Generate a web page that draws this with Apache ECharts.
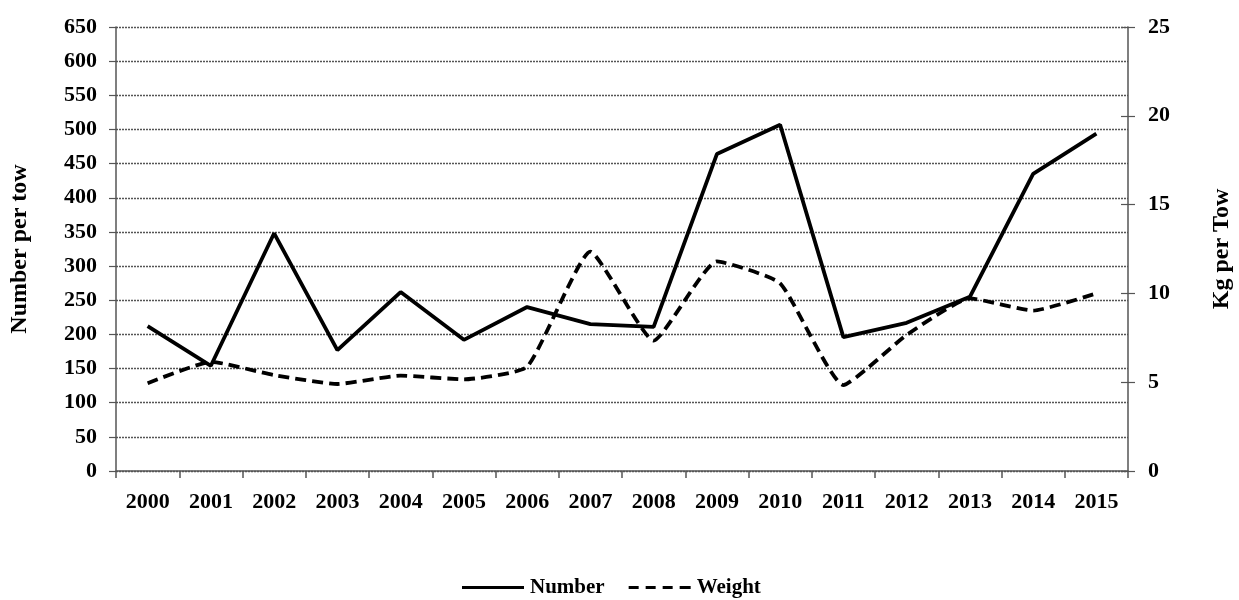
<!DOCTYPE html>
<html><head><meta charset="utf-8">
<script src="https://cdn.jsdelivr.net/npm/echarts@6/dist/echarts.min.js"></script>
<style>html,body{margin:0;padding:0;background:#fff}#c{width:1239px;height:600px}</style>
</head><body><div id="c"></div>
<script>
const years = ['2000','2001','2002','2003','2004','2005','2006','2007','2008','2009','2010','2011','2012','2013','2014','2015'];
const numberPerTow = [212,154,348,177,262,192,240,215,211,464,507,196,217,255,435,494];
const kgPerTow = [4.94,6.15,5.4,4.9,5.37,5.16,5.87,12.35,7.34,11.8,10.57,4.84,7.66,9.72,9.03,10.0];

const font = '"Liberation Serif","Times New Roman",serif';
const axisCol = '#555';
const chart = echarts.init(document.getElementById('c'));
chart.setOption({
  animation:false,
  backgroundColor:'#fff',
  grid:{left:116,right:111,top:27,bottom:129,containLabel:false,outerBoundsMode:'none'},
  legend:{
    bottom:-3,left:457,itemWidth:62,itemHeight:14,itemGap:24,
    textStyle:{fontFamily:font,fontWeight:'bold',fontSize:21,color:'#000',padding:[0,0,0,1]},
    data:[{name:'Number',icon:'path://M0,5.5 L62,5.5 L62,8.5 L0,8.5 Z'},
          {name:'Weight',icon:'path://M0,5.5 L10,5.5 L10,8.5 L0,8.5 Z M17,5.5 L27,5.5 L27,8.5 L17,8.5 Z M34,5.5 L44,5.5 L44,8.5 L34,8.5 Z M51,5.5 L62,5.5 L62,8.5 L51,8.5 Z'}]
  },
  xAxis:{
    type:'category',data:years,boundaryGap:true,
    axisLine:{lineStyle:{color:axisCol,width:1.5}},
    axisTick:{show:true,alignWithLabel:false,length:7,lineStyle:{color:axisCol,width:1.5}},
    axisLabel:{fontFamily:font,fontWeight:'bold',fontSize:22,color:'#000',margin:20}
  },
  yAxis:[{
    type:'value',min:0,max:650,interval:50,position:'left',
    name:'Number per tow',nameLocation:'middle',nameGap:84,nameRotate:90,
    nameTextStyle:{fontFamily:font,fontWeight:'bold',fontSize:24,color:'#000'},
    axisLine:{show:true,lineStyle:{color:axisCol,width:1.5}},
    axisTick:{show:true,length:7,lineStyle:{color:axisCol,width:1.2}},
    axisLabel:{fontFamily:font,fontWeight:'bold',fontSize:22,color:'#000',margin:19},
    splitLine:{show:true,lineStyle:{color:'#555',type:[2,1],width:1.3}}
  },{
    type:'value',min:0,max:25,interval:5,position:'right',
    name:'Kg per Tow',nameLocation:'middle',nameGap:82,nameRotate:90,
    nameTextStyle:{fontFamily:font,fontWeight:'bold',fontSize:24,color:'#000'},
    axisLine:{show:true,lineStyle:{color:axisCol,width:1.5}},
    axisTick:{show:true,length:7,lineStyle:{color:axisCol,width:1.2}},
    axisLabel:{fontFamily:font,fontWeight:'bold',fontSize:22,color:'#000',margin:20},
    splitLine:{show:false}
  },{
    type:'value',min:0,max:25,interval:5,position:'right',
    axisLine:{show:false},
    axisTick:{show:true,inside:true,length:7,lineStyle:{color:axisCol,width:1.2}},
    axisLabel:{show:false},splitLine:{show:false}
  }],
  series:[{
    name:'Number',type:'line',yAxisIndex:0,data:numberPerTow,
    symbol:'none',lineStyle:{color:'#000',width:3.8},itemStyle:{color:'#000'}
  },{
    name:'Weight',type:'line',yAxisIndex:1,data:kgPerTow,smooth:0.15,
    symbol:'none',lineStyle:{color:'#000',width:3.8,type:[11,6]},itemStyle:{color:'#000'}
  }]
});
</script></body></html>
